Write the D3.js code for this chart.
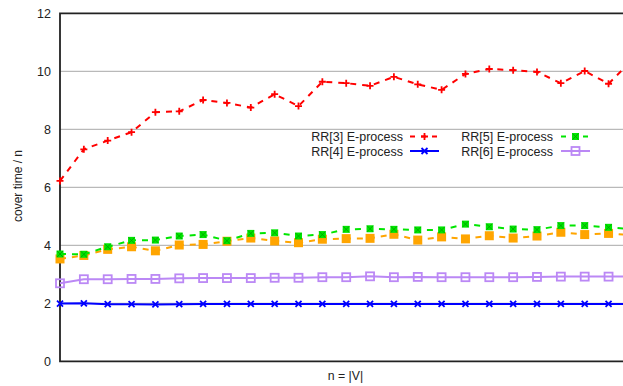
<!DOCTYPE html>
<html>
<head>
<meta charset="UTF-8" />
<title>cover time</title>
<script src="https://d3js.org/d3.v7.min.js"></script>
<style>
    body { margin: 0; background: #fff; overflow: hidden; }
    svg { display: block; font-family: 'Liberation Sans', Arial, sans-serif; }
</style>
</head>
<body>
<div id="chart"></div>
<script>
// one point per graph size, the last one falls just outside the picture
var sizes = d3.range(25);

var rr3 = [6.22, 7.31, 7.61, 7.9, 8.59, 8.62, 9.01, 8.91, 8.75, 9.21, 8.8, 9.64, 9.59, 9.5, 9.81,
           9.55, 9.36, 9.91, 10.08, 10.04, 9.98, 9.59, 10.01, 9.57, 10.4];
var rr4 = [1.99, 2.0, 1.97, 1.97, 1.96, 1.97, 1.98, 1.98, 1.98, 1.98, 1.98, 1.98, 1.98, 1.98, 1.98,
           1.98, 1.98, 1.98, 1.98, 1.98, 1.98, 1.98, 1.98, 1.98, 1.98];
var rr5 = [3.70, 3.69, 3.95, 4.17, 4.18, 4.32, 4.37, 4.16, 4.41, 4.43, 4.32, 4.37, 4.55, 4.57, 4.55,
           4.53, 4.53, 4.73, 4.64, 4.56, 4.54, 4.68, 4.68, 4.62, 4.55];
var rr6 = [2.69, 2.83, 2.83, 2.84, 2.84, 2.86, 2.87, 2.87, 2.87, 2.88, 2.88, 2.9, 2.9, 2.93, 2.9,
           2.91, 2.9, 2.9, 2.9, 2.9, 2.91, 2.92, 2.92, 2.92, 2.92];
// fifth series, not in the key
var rrX = [3.53, 3.65, 3.86, 3.95, 3.81, 4.01, 4.03, 4.14, 4.25, 4.15, 4.09, 4.21, 4.23, 4.24, 4.38,
           4.18, 4.29, 4.22, 4.33, 4.25, 4.32, 4.45, 4.37, 4.41, 4.35];

var yTicks = [0, 2, 4, 6, 8, 10, 12];

var w = 623, h = 386;
var plotLeft = 60, plotTop = 13.3, plotBottom = 361.3;

var x = d3.scaleLinear().domain([0, 24]).range([plotLeft, 632.4]);
var y = d3.scaleLinear().domain([0, 12]).range([plotBottom, plotTop]);

var svg = d3.select("#chart").append("svg")
    .attr("width", w)
    .attr("height", h);

// grid
svg.append("g").selectAll("line")
    .data(yTicks.filter(function(d){ return d > 0 && d < 12; }))
    .enter().append("line")
    .attr("x1", plotLeft).attr("x2", w)
    .attr("y1", function(d){ return y(d); })
    .attr("y2", function(d){ return y(d); })
    .attr("stroke", "#a8a8a8")
    .attr("stroke-width", 1);

// y tick labels
svg.append("g").selectAll("text")
    .data(yTicks)
    .enter().append("text")
    .attr("x", 51)
    .attr("y", function(d){ return y(d) + 4.5; })
    .attr("text-anchor", "end")
    .attr("font-size", "12.5px")
    .attr("fill", "#222")
    .text(function(d){ return d; });

// frame
svg.append("path")
    .attr("d", "M" + w + "," + y(12) + "H" + plotLeft + "V" + y(0) + "H" + w)
    .attr("fill", "none")
    .attr("stroke", "#222")
    .attr("stroke-width", 1.8);

svg.append("text")
    .attr("transform", "translate(22,186) rotate(-90)")
    .attr("text-anchor", "middle")
    .attr("font-size", "12px")
    .attr("fill", "#222")
    .text("cover time / n");

svg.append("text")
    .attr("x", 345.5)
    .attr("y", 380)
    .attr("text-anchor", "middle")
    .attr("font-size", "12.3px")
    .attr("fill", "#222")
    .text("n = |V|");

var series = [
    {values: rrX, color: "#ffa500", dash: "6,6", marker: "bigsquare"},
    {values: rr6, color: "#bb88f5", dash: null, marker: "opensquare"},
    {values: rr5, color: "#00e600", dash: "6,6", marker: "filledsquare"},
    {values: rr3, color: "#ff0000", dash: "6,6", marker: "plus"},
    {values: rr4, color: "#0000ff", dash: null, marker: "cross"}
];

var line = d3.line()
    .x(function(d, i){ return x(sizes[i]); })
    .y(function(d){ return y(d); });

function drawMarker(g, kind, color, cx, cy) {
    if (kind === "plus") {
        g.append("path").attr("d", "M" + (cx - 3.5) + "," + cy + "h7M" + cx + "," + (cy - 3.5) + "v7")
            .attr("stroke", color).attr("stroke-width", 1.8);
    } else if (kind === "cross") {
        g.append("path").attr("d", "M" + (cx - 3) + "," + (cy - 3) + "l6,6M" + (cx - 3) + "," + (cy + 3) + "l6,-6")
            .attr("stroke", color).attr("stroke-width", 1.8);
    } else if (kind === "filledsquare") {
        g.append("rect").attr("x", cx - 3.5).attr("y", cy - 3.5).attr("width", 7).attr("height", 7)
            .attr("fill", color);
        g.append("path").attr("d", "M" + (cx - 3) + "," + (cy - 3) + "l6,6M" + (cx - 3) + "," + (cy + 3) + "l6,-6")
            .attr("stroke", "#00a000").attr("stroke-width", 0.8);
    } else if (kind === "bigsquare") {
        g.append("rect").attr("x", cx - 4.5).attr("y", cy - 4.5).attr("width", 9).attr("height", 9)
            .attr("fill", color);
    } else if (kind === "opensquare") {
        g.append("rect").attr("x", cx - 4).attr("y", cy - 4).attr("width", 8).attr("height", 8)
            .attr("fill", "none").attr("stroke", color).attr("stroke-width", 1.8);
    }
}

series.forEach(function(s) {
    var g = svg.append("g");
    g.append("path")
        .datum(s.values)
        .attr("d", line)
        .attr("fill", "none")
        .attr("stroke", s.color)
        .attr("stroke-width", 2)
        .attr("stroke-dasharray", s.dash);
    s.values.forEach(function(v, i) {
        drawMarker(g, s.marker, s.color, x(sizes[i]), y(v));
    });
});

// key
var keyItems = [
    {label: "RR[3] E-process", s: series[3], tx: 403, lx: 410, ly: 136.5},
    {label: "RR[4] E-process", s: series[4], tx: 403, lx: 410, ly: 151},
    {label: "RR[5] E-process", s: series[2], tx: 553, lx: 561, ly: 136.5},
    {label: "RR[6] E-process", s: series[1], tx: 553, lx: 561, ly: 151}
];

var key = svg.append("g");
keyItems.forEach(function(k) {
    key.append("text")
        .attr("x", k.tx)
        .attr("y", k.ly + 4.5)
        .attr("text-anchor", "end")
        .attr("font-size", "12.5px")
        .attr("fill", "#222")
        .text(k.label);
    key.append("line")
        .attr("x1", k.lx).attr("x2", k.lx + 29)
        .attr("y1", k.ly).attr("y2", k.ly)
        .attr("stroke", k.s.color)
        .attr("stroke-width", 2)
        .attr("stroke-dasharray", k.s.dash ? "5,6" : null);
    drawMarker(key, k.s.marker, k.s.color, k.lx + 14.5, k.ly);
});
</script>
</body>
</html>
